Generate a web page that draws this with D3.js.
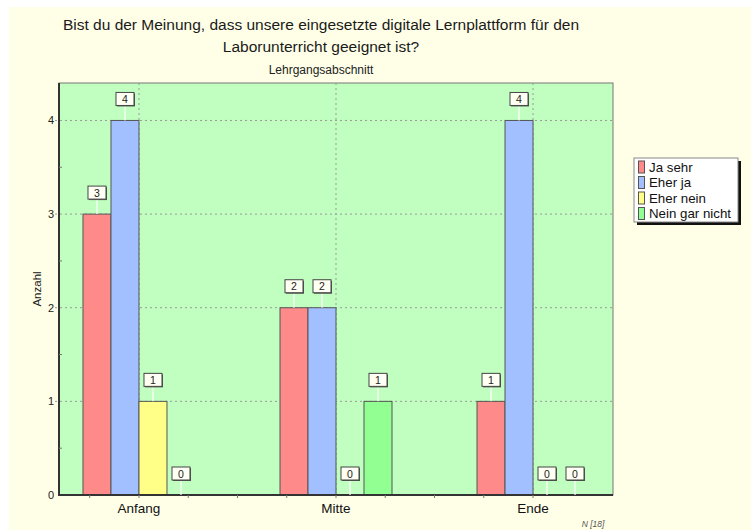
<!DOCTYPE html>
<html>
<head>
<meta charset="utf-8">
<script src="https://cdn.jsdelivr.net/npm/d3@7"></script>
<style>
  body { margin: 0; background: #fff; }
  text { font-family: "Liberation Sans", Arial, sans-serif; }
</style>
</head>
<body>
<div id="chart"></div>
<script>
// data
var categories = ["Anfang", "Mitte", "Ende"]
var seriesNames = ["Ja sehr", "Eher ja", "Eher nein", "Nein gar nicht"]
var jaSehr = [3, 2, 1]
var eherJa = [4, 2, 4]
var eherNein = [1, 0, 0]
var neinGarNicht = [0, 1, 0]
var yTicks = [0, 1, 2, 3, 4]
var titleLines = ["Bist du der Meinung, dass unsere eingesetzte digitale Lernplattform für den",
                  "Laborunterricht geeignet ist?"]
var subTitle = "Lehrgangsabschnitt"
var yTitle = "Anzahl"
var footNote = "N [18]"

var seriesValues = [jaSehr, eherJa, eherNein, neinGarNicht]
var colors = ["#ff8a8a", "#a2c0ff", "#ffff88", "#92ff92"]

var width = 751, height = 530
var plot = {left: 59, right: 613, top: 83, bottom: 495}
var barWidth = 28

var svg = d3.select("#chart").append("svg")
    .attr("width", width).attr("height", height)

// page background
svg.append("rect").attr("x", 9).attr("y", 7)
    .attr("width", width - 9).attr("height", height - 7)
    .style("fill", "#ffffe8")

// titles
svg.append("g").selectAll("text").data(titleLines).enter().append("text")
    .attr("x", 321).attr("y", function(d, i) { return 30 + i*22 })
    .attr("text-anchor", "middle")
    .style("font-size", "15.5px").style("fill", "#1a1a1a")
    .text(function(d) { return d })

svg.append("text").attr("x", 321).attr("y", 74)
    .attr("text-anchor", "middle")
    .style("font-size", "12px").style("fill", "#222")
    .text(subTitle)

// scales
var x = d3.scalePoint().domain(categories)
    .range([plot.left, plot.right]).padding(0.406)
var y = d3.scaleLinear().domain([0, 4.4]).range([plot.bottom, plot.top])

// plot area
svg.append("rect")
    .attr("x", plot.left).attr("y", plot.top)
    .attr("width", plot.right - plot.left).attr("height", plot.bottom - plot.top)
    .style("fill", "#c0ffc0").style("stroke", "#777").style("stroke-width", 1)

// grid
var grid = svg.append("g").style("stroke", "#999").style("stroke-dasharray", "2,3")
grid.selectAll("line.h").data(yTicks.filter(function(d) { return d > 0 })).enter().append("line")
    .attr("x1", plot.left - 4).attr("x2", plot.right)
    .attr("y1", function(d) { return y(d) }).attr("y2", function(d) { return y(d) })
grid.selectAll("line.v").data(categories).enter().append("line")
    .attr("x1", function(d) { return x(d) }).attr("x2", function(d) { return x(d) })
    .attr("y1", plot.top).attr("y2", plot.bottom)

// bars
var bars = []
categories.forEach(function(c, ci) {
  seriesValues.forEach(function(vals, si) {
    bars.push({cat: c, s: si, v: vals[ci]})
  })
})
function barX(d) { return x(d.cat) + (d.s - 2)*barWidth }

svg.append("g").selectAll("rect").data(bars.filter(function(d) { return d.v > 0 })).enter().append("rect")
    .attr("x", barX).attr("y", function(d) { return y(d.v) })
    .attr("width", barWidth).attr("height", function(d) { return y(0) - y(d.v) })
    .style("fill", function(d) { return colors[d.s] })
    .style("stroke", "#555").style("stroke-width", 1)

// axes lines
svg.append("line").attr("x1", plot.left).attr("x2", plot.left)
    .attr("y1", plot.top).attr("y2", plot.bottom + 1)
    .style("stroke", "#333").style("stroke-width", 2)
svg.append("line").attr("x1", plot.left - 1).attr("x2", plot.right)
    .attr("y1", plot.bottom).attr("y2", plot.bottom)
    .style("stroke", "#333").style("stroke-width", 2)

// y tick labels + minor ticks
svg.append("g").selectAll("text").data(yTicks).enter().append("text")
    .attr("x", 54).attr("y", function(d) { return y(d) + 4 })
    .attr("text-anchor", "end").style("font-size", "11px").style("fill", "#222")
    .text(function(d) { return d })
svg.append("g").selectAll("line").data(d3.range(0.5, 4.4, 1)).enter().append("line")
    .attr("x1", plot.left).attr("x2", plot.left + 3)
    .attr("y1", function(d) { return y(d) }).attr("y2", function(d) { return y(d) })
    .style("stroke", "#777")

// x minor ticks
var step = x.step()
var xt = d3.range(-1, 2*categories.length + 3).map(function(i) { return x(categories[0]) + i*step/4 })
    .filter(function(v) { return v > plot.left + 5 && v < plot.right - 5 })
svg.append("g").selectAll("line").data(xt).enter().append("line")
    .attr("x1", function(d) { return d }).attr("x2", function(d) { return d })
    .attr("y1", plot.bottom).attr("y2", plot.bottom + 3)
    .style("stroke", "#777")

// category labels
svg.append("g").selectAll("text").data(categories).enter().append("text")
    .attr("x", function(d) { return x(d) }).attr("y", 513)
    .attr("text-anchor", "middle").style("font-size", "13.5px").style("fill", "#111")
    .text(function(d) { return d })

// y axis title
svg.append("text")
    .attr("transform", "translate(41," + ((plot.top + plot.bottom)/2) + ") rotate(-90)")
    .attr("text-anchor", "middle").style("font-size", "11.5px").style("fill", "#222")
    .text(yTitle)

// value labels
var lab = svg.append("g").selectAll("g").data(bars).enter().append("g")
    .attr("transform", function(d) { return "translate(" + (barX(d) + barWidth/2) + "," + y(d.v) + ")" })
lab.append("line").attr("x1", 0).attr("x2", 0).attr("y1", -15).attr("y2", 0)
    .style("stroke", "#fff").style("stroke-opacity", 0.8).style("stroke-width", 1.5)
lab.append("rect").attr("x", -8).attr("y", -27).attr("width", 18).attr("height", 13)
    .style("fill", "#555")
lab.append("rect").attr("x", -9).attr("y", -28).attr("width", 18).attr("height", 13)
    .style("fill", "#fffff4").style("stroke", "#444").style("stroke-width", 1)
lab.append("text").attr("x", 0).attr("y", -17.5)
    .attr("text-anchor", "middle").style("font-size", "10.5px").style("fill", "#222")
    .text(function(d) { return d.v })

// legend
var lg = svg.append("g").attr("transform", "translate(634,158)")
lg.append("rect").attr("x", 3).attr("y", 3).attr("width", 104).attr("height", 64).style("fill", "#111")
lg.append("rect").attr("x", 0).attr("y", 0).attr("width", 104).attr("height", 64)
    .style("fill", "#fff").style("stroke", "#888")
var li = lg.selectAll("g").data(seriesNames).enter().append("g")
    .attr("transform", function(d, i) { return "translate(0," + (2.5 + i*15.5) + ")" })
li.append("rect").attr("x", 4.5).attr("y", 0.5).attr("width", 6).attr("height", 12)
    .style("fill", function(d, i) { return colors[i] }).style("stroke", "#555")
li.append("text").attr("x", 15).attr("y", 11)
    .style("font-size", "13.3px").style("fill", "#111")
    .text(function(d) { return d })

// footnote
svg.append("text").attr("x", 593).attr("y", 527)
    .attr("text-anchor", "middle").style("font-size", "8.5px")
    .style("font-style", "italic").style("fill", "#555")
    .text(footNote)
</script>
</body>
</html>
